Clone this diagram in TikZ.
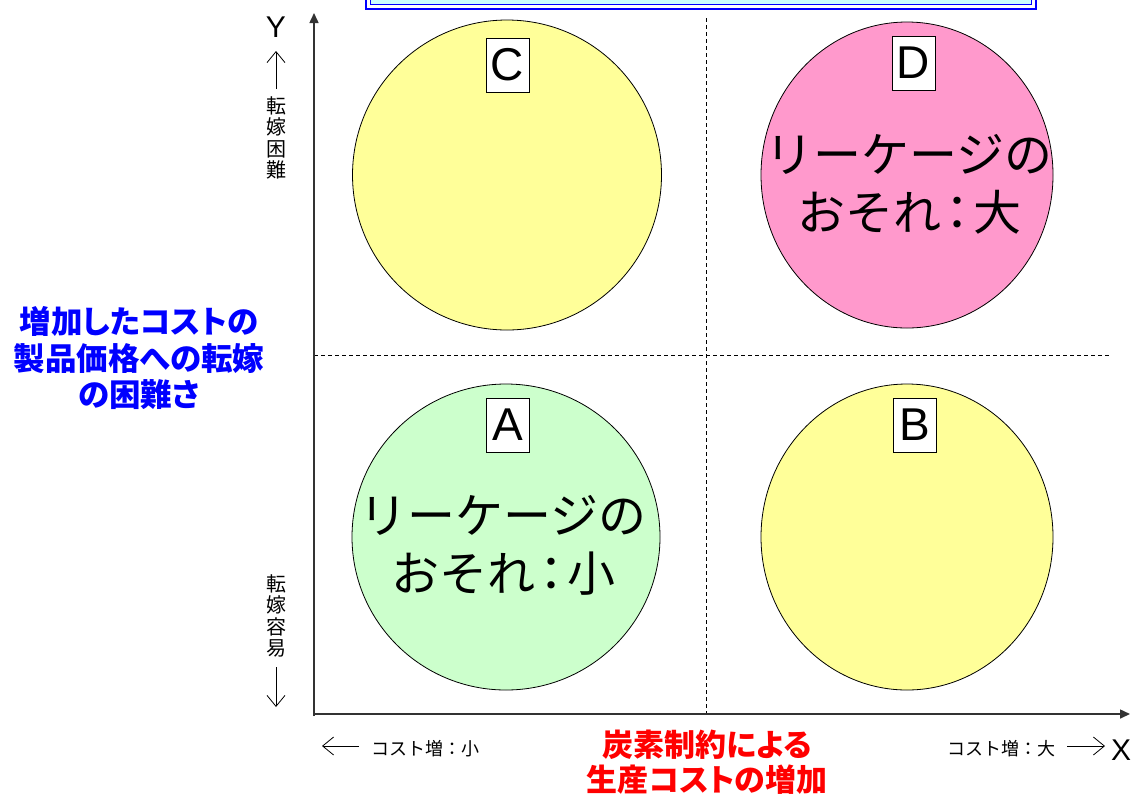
\documentclass[tikz,border=0pt]{standalone}
\usepackage{fontspec}
\setmainfont{Liberation Sans}
\newfontfamily\jp{Noto Sans CJK JP}
\newfontfamily\jpp{Noto Sans CJK JP}[RawFeature=+palt]
\usetikzlibrary{shapes.geometric,arrows.meta}
\definecolor{cyel}{HTML}{FFFF99}
\definecolor{cpink}{HTML}{FF99CC}
\definecolor{cgreen}{HTML}{CCFFCC}
\definecolor{ccyan}{HTML}{CCFFFF}
\definecolor{tblue}{HTML}{0000FF}
\definecolor{tred}{HTML}{FF0000}
\newcommand{\ncolon}{\hspace{4pt}{\jpp ：}\hspace{4pt}}
\begin{document}
\begin{tikzpicture}[x=1pt,y=-1pt,
  circ/.style={ellipse,draw=black,line width=0.8pt,inner sep=0pt},
  lbox/.style={draw=black,fill=white,line width=0.8pt,minimum width=43pt,minimum height=54pt,inner sep=0pt,font=\fontsize{46}{46}\selectfont},
  big/.style={font=\jp\fontsize{48}{58}\selectfont,align=center,inner sep=0pt},
  axisline/.style={draw=black!80,line width=1.5pt,-{Triangle[length=10pt,width=9pt]}},
  gridline/.style={draw=black,line width=0.8pt,dash pattern=on 4pt off 3pt},
  small/.style={font=\jp\fontsize{18}{20}\selectfont,inner sep=0pt},
  vtext/.style={font=\jp\fontsize{20}{21.5}\selectfont,align=center,inner sep=0pt},
  thinarrow/.style={line width=0.8pt,-{Straight Barb[length=11pt,width=18pt,line width=0.8pt]}},
  letter/.style={font=\fontsize{30}{30}\selectfont,inner sep=0pt},
  bluelbl/.style={font=\jpp\bfseries\fontsize{31.5}{36.5}\selectfont,text=tblue,align=center,inner sep=0pt},
  redlbl/.style={font=\jpp\bfseries\fontsize{31}{35}\selectfont,text=tred,align=center,inner sep=0pt}
]
\useasboundingbox (0,0) rectangle (1131,796);
\clip (0,0) rectangle (1131,796);
\fill[white] (0,0) rectangle (1131,796);

% top box
\draw[tblue,line width=2.5pt,fill=white] (366,-20) rectangle (1036,9);
\draw[tblue,line width=1pt,fill=ccyan] (370.5,-20) rectangle (1031.5,4.5);

% grid
\coordinate (vt) at (706,18);
\coordinate (vb) at (706,714);
\coordinate (hl) at (314,355);
\coordinate (hr) at (1110,355);
\draw[gridline] (vt) -- (vb);
\draw[gridline] (hl) -- (hr);

% axes
\coordinate (O) at (314,716);
\coordinate (Oy) at (314,714);
\coordinate (Yt) at (314,13);
\coordinate (Xt) at (1130,714);
\draw[axisline] (O) -- (Yt);
\draw[axisline] (Oy) -- (Xt);

% circles
\node[circ,fill=cyel,minimum width=309pt,minimum height=310pt] (C) at (507,175) {};
\node[circ,fill=cpink,minimum width=292pt,minimum height=306pt] (D) at (907,175) {};
\node[circ,fill=cgreen,minimum width=308pt,minimum height=306pt] (A) at (506,537) {};
\node[circ,fill=cyel,minimum width=292pt,minimum height=306pt] (B) at (907,537) {};

% labels
\node[lbox] (Cl) at (507.5,65) {C};
\node[lbox] (Dl) at (913.5,63) {D};
\node[lbox] (Al) at (508,425) {A};
\node[lbox] (Bl) at (914.5,425) {B};

\node[big] (Dt) at (909,184) {リーケージの\\おそれ\ncolon 大};
\node[big] (At) at (503,545) {リーケージの\\おそれ\ncolon 小};

% Y side
\node[letter] (Yl) at (276,27) {Y};
\coordinate (ua) at (276,89);
\coordinate (ub) at (276,51);
\draw[thinarrow] (ua) -- (ub);
\node[vtext] (yhard) at (276,138) {転\\嫁\\困\\難};
\node[vtext] (yeasy) at (276,616) {転\\嫁\\容\\易};
\coordinate (da) at (276,667);
\coordinate (db) at (276,707);
\draw[thinarrow] (da) -- (db);

% X side
\coordinate (la) at (359,746);
\coordinate (lb) at (322,746);
\draw[thinarrow] (la) -- (lb);
\node[small] (xs) at (425,749) {コスト増：小};
\node[small] (xl) at (1001,749) {コスト増：大};
\coordinate (ra) at (1067,746);
\coordinate (rb) at (1105,746);
\draw[thinarrow] (ra) -- (rb);
\node[letter] (Xl) at (1121,750) {X};

% axis titles
\node[bluelbl] (ytitle) at (139,358) {増加したコストの\\製品価格への転嫁\\の困難さ};
\node[redlbl] (xtitle) at (707,762) {炭素制約による\\生産コストの増加};
\end{tikzpicture}
\end{document}
